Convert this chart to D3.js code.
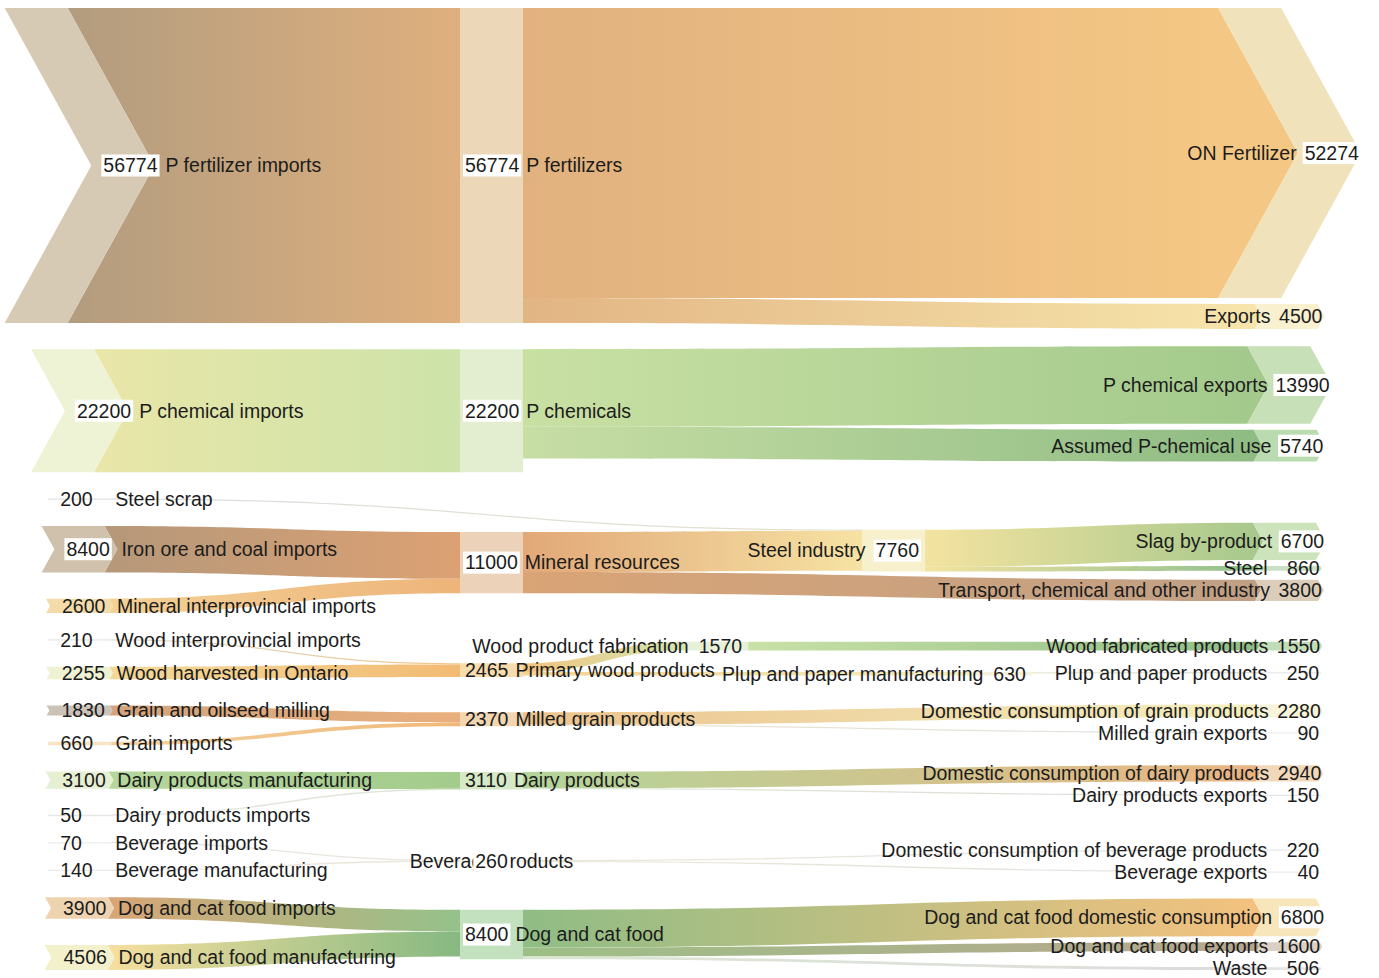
<!DOCTYPE html>
<html>
<head>
<meta charset="utf-8">
<script src="https://cdn.jsdelivr.net/npm/d3@7"></script>
<style>
  body { margin: 0; background: #fff; }
  text { font-family: "Liberation Sans", Arial, sans-serif; font-size: 19.5px; fill: #1c1c1c; }
</style>
</head>
<body>
<div id="chart"></div>
<script>
// nodes, listed top to bottom inside each stage
var nodeNames = [
    "P fertilizer imports", "P chemical imports", "Steel scrap", "Iron ore and coal imports",
    "Mineral interprovincial imports", "Wood interprovincial imports", "Wood harvested in Ontario",
    "Grain and oilseed milling", "Grain imports", "Dairy products manufacturing", "Dairy products imports",
    "Beverage imports", "Beverage manufacturing", "Dog and cat food imports", "Dog and cat food manufacturing",
    "P fertilizers", "P chemicals", "Mineral resources", "Primary wood products", "Milled grain products",
    "Dairy products", "Beverage products", "Dog and cat food",
    "Wood product fabrication", "Steel industry", "Plup and paper manufacturing",
    "ON Fertilizer", "Exports", "P chemical exports", "Assumed P-chemical use", "Slag by-product", "Steel",
    "Transport, chemical and other industry", "Wood fabricated products", "Plup and paper products",
    "Domestic consumption of grain products", "Milled grain exports", "Domestic consumption of dairy products",
    "Dairy products exports", "Domestic consumption of beverage products", "Beverage exports",
    "Dog and cat food domestic consumption", "Dog and cat food exports", "Waste"
];
var nodeValues = [
    56774, 22200, 200, 8400, 2600, 210, 2255, 1830, 660, 3100, 50, 70, 140, 3900, 4506,
    56774, 22200, 11000, 2465, 2370, 3110, 260, 8400,
    1570, 7760, 630,
    52274, 4500, 13990, 5740, 6700, 860, 3800, 1550, 250, 2280, 90, 2940, 150, 220, 40, 6800, 1600, 506
];
// processing stage of each node (0 = sources, 1 = products, 3 = final use)
var nodeStages = [
    0, 0, 0, 0, 0, 0, 0, 0, 0, 0, 0, 0, 0, 0, 0,
    1, 1, 1, 1, 1, 1, 1, 1,
    1.56, 2, 2.27,
    3, 3, 3, 3, 3, 3, 3, 3, 3, 3, 3, 3, 3, 3, 3, 3, 3, 3
];
var flows = [
    ["P fertilizer imports", "P fertilizers", 56774],
    ["P chemical imports", "P chemicals", 22200],
    ["Steel scrap", "Steel industry", 200],
    ["Iron ore and coal imports", "Mineral resources", 8400],
    ["Mineral interprovincial imports", "Mineral resources", 2600],
    ["Wood interprovincial imports", "Primary wood products", 210],
    ["Wood harvested in Ontario", "Primary wood products", 2255],
    ["Grain and oilseed milling", "Milled grain products", 1830],
    ["Grain imports", "Milled grain products", 660],
    ["Dairy products manufacturing", "Dairy products", 3100],
    ["Dairy products imports", "Dairy products", 50],
    ["Beverage imports", "Beverage products", 70],
    ["Beverage manufacturing", "Beverage products", 140],
    ["Dog and cat food imports", "Dog and cat food", 3900],
    ["Dog and cat food manufacturing", "Dog and cat food", 4506],
    ["P fertilizers", "ON Fertilizer", 52274],
    ["P fertilizers", "Exports", 4500],
    ["P chemicals", "P chemical exports", 13990],
    ["P chemicals", "Assumed P-chemical use", 5740],
    ["Mineral resources", "Steel industry", 7200],
    ["Mineral resources", "Transport, chemical and other industry", 3800],
    ["Steel industry", "Slag by-product", 6700],
    ["Steel industry", "Steel", 860],
    ["Primary wood products", "Wood product fabrication", 1570],
    ["Primary wood products", "Plup and paper manufacturing", 630],
    ["Wood product fabrication", "Wood fabricated products", 1550],
    ["Plup and paper manufacturing", "Plup and paper products", 250],
    ["Milled grain products", "Domestic consumption of grain products", 2280],
    ["Milled grain products", "Milled grain exports", 90],
    ["Dairy products", "Domestic consumption of dairy products", 2940],
    ["Dairy products", "Dairy products exports", 150],
    ["Beverage products", "Domestic consumption of beverage products", 220],
    ["Beverage products", "Beverage exports", 40],
    ["Dog and cat food", "Dog and cat food domestic consumption", 6800],
    ["Dog and cat food", "Dog and cat food exports", 1600],
    ["Dog and cat food", "Waste", 506]
];

// ---- styles ----
var nodeFill = {
    "P fertilizer imports": "#d6cab4", "P chemical imports": "#eff3d5", "Steel scrap": "#e2e2e2",
    "Iron ore and coal imports": "#cfc1ab", "Mineral interprovincial imports": "#f4dcaa",
    "Wood interprovincial imports": "#e6e6e6", "Wood harvested in Ontario": "#eef2d2",
    "Grain and oilseed milling": "#cbc3b8", "Grain imports": "#f6e4c4", "Dairy products manufacturing": "#e5f0d3",
    "Dairy products imports": "#e8e8e8", "Beverage imports": "#ebebeb", "Beverage manufacturing": "#ebebeb",
    "Dog and cat food imports": "#eed3b0", "Dog and cat food manufacturing": "#f3f1cc",
    "P fertilizers": "#ecd7b8", "P chemicals": "#e2eecf", "Mineral resources": "#ebd2b8",
    "Primary wood products": "#f7ddae", "Milled grain products": "#f2d6b2", "Dairy products": "#d6e9c7",
    "Beverage products": "#efefe6", "Dog and cat food": "#c3e1bf",
    "Wood product fabrication": "#e6f1d8", "Steel industry": "#f7f0cd", "Plup and paper manufacturing": "#f5f1da",
    "ON Fertilizer": "#f0e2ba", "Exports": "#f8f0cf", "P chemical exports": "#c8e0b8",
    "Assumed P-chemical use": "#badaaf", "Slag by-product": "#cde3bb", "Steel": "#c6e0c1",
    "Transport, chemical and other industry": "#dbcdba", "Wood fabricated products": "#c0ddb7",
    "Plup and paper products": "#ececec", "Domestic consumption of grain products": "#f7f4da",
    "Milled grain exports": "#eeeeee", "Domestic consumption of dairy products": "#f0d8b9",
    "Dairy products exports": "#e6e6e6", "Domestic consumption of beverage products": "#e8e8e8",
    "Beverage exports": "#ececec", "Dog and cat food domestic consumption": "#f7e5bb",
    "Dog and cat food exports": "#dad0c4", "Waste": "#e4e4e4"
};
var linkColor = {
    "P fertilizer imports>P fertilizers": ["#b29c7f", "#dfb07e"],
    "P chemical imports>P chemicals": ["#e9e6a8", "#cde3a9"],
    "Steel scrap>Steel industry": ["#dcdcdc", "#e4e0cc"],
    "Iron ore and coal imports>Mineral resources": ["#b5987a", "#dca173"],
    "Mineral interprovincial imports>Mineral resources": ["#f3d196", "#eeb47a"],
    "Wood interprovincial imports>Primary wood products": ["#dedbd0", "#f1c48a"],
    "Wood harvested in Ontario>Primary wood products": ["#f4d999", "#f2bb74"],
    "Grain and oilseed milling>Milled grain products": ["#d3a37d", "#e9b07d"],
    "Grain imports>Milled grain products": ["#f4d2a0", "#f0b878"],
    "Dairy products manufacturing>Dairy products": ["#b5d69c", "#a3cc8c"],
    "Dairy products imports>Dairy products": ["#e4e4e4", "#dde8d3"],
    "Beverage imports>Beverage products": ["#e6e6e6", "#e8e6da"],
    "Beverage manufacturing>Beverage products": ["#e6e6e6", "#ece6d6"],
    "Dog and cat food imports>Dog and cat food": ["#d8a577", "#95c18a"],
    "Dog and cat food manufacturing>Dog and cat food": ["#f6df9f", "#86b981"],
    "P fertilizers>ON Fertilizer": ["#e1b17f", "#f5c784"],
    "P fertilizers>Exports": ["#e2b584", "#f7e5ac"],
    "P chemicals>P chemical exports": ["#c9e0a3", "#a3ca8c"],
    "P chemicals>Assumed P-chemical use": ["#c7dea5", "#8fbc84"],
    "Mineral resources>Steel industry": ["#e2a878", "#f6e2a3"],
    "Mineral resources>Transport, chemical and other industry": ["#d9a476", "#c0a085"],
    "Steel industry>Slag by-product": ["#f4e3a0", "#a8c98d"],
    "Steel industry>Steel": ["#f3e3a0", "#8ebf8e"],
    "Primary wood products>Wood product fabrication": ["#f2c37d", "#d2e6b4"],
    "Primary wood products>Plup and paper manufacturing": ["#f3d290", "#f3edc5"],
    "Wood product fabrication>Wood fabricated products": ["#c9e1a7", "#8fbd86"],
    "Plup and paper manufacturing>Plup and paper products": ["#eaecd6", "#e0e0e0"],
    "Milled grain products>Domestic consumption of grain products": ["#ebc38e", "#f4efbe"],
    "Milled grain products>Milled grain exports": ["#ebe2cc", "#e2e2e2"],
    "Dairy products>Domestic consumption of dairy products": ["#b3d59a", "#e9b482"],
    "Dairy products>Dairy products exports": ["#dde6d2", "#dcdcdc"],
    "Beverage products>Domestic consumption of beverage products": ["#ece8d8", "#e0e0e0"],
    "Beverage products>Beverage exports": ["#ece8d8", "#e2e2e2"],
    "Dog and cat food>Dog and cat food domestic consumption": ["#8fbd85", "#f3c17f"],
    "Dog and cat food>Dog and cat food exports": ["#9dbf86", "#b7a78f"],
    "Dog and cat food>Waste": ["#dbe6d2", "#dcdcdc"]
};
var centeredLabels = ["Beverage products"];

var width = 1379, height = 978;
var yTop = 8, yBottom = 970;
var nodeW = 63, minBand = 1.3, labelGap = 24;

var svg = d3.select("#chart").append("svg")
    .attr("width", width)
    .attr("height", height);
var defs = svg.append("defs");

function textWidth(str) {
    var t = svg.append("text").text(str);
    var w = t.node().getComputedTextLength();
    t.remove();
    return w;
}

var nodes = nodeNames.map(function(name, i) {
    return {name: name, value: nodeValues[i], stage: nodeStages[i], index: i, inLinks: [], outLinks: []};
});
var byName = {};
nodes.forEach(function(n) { byName[n.name] = n; });

var links = flows.map(function(f, i) {
    var l = {source: byName[f[0]], target: byName[f[1]], value: f[2], index: i};
    l.source.outLinks.push(l);
    l.target.inLinks.push(l);
    return l;
});

nodes.forEach(function(n) {
    n.size = Math.max(d3.sum(n.inLinks, function(l) { return l.value; }),
                      d3.sum(n.outLinks, function(l) { return l.value; }));
});

var k = d3.scaleLinear().domain([0, d3.max(nodes, function(n) { return n.size; })]).range([0, 315]);
var x = d3.scaleLinear().domain([0, 1, 2, 3]).range([48, 460, 862, 1258]);

links.forEach(function(l) { l.w = k(l.value); });
nodes.forEach(function(n) {
    n.h = Math.max(minBand, k(n.size));
    n.depth = (n.stage === 0 || n.stage === 3) ? 0.55 * n.h / 2 : 0;
    n.x0 = x(n.stage) - n.depth / 2;
    n.x1 = n.x0 + nodeW;
    // horizontal extent of the label, used to keep labels apart
    var lw = textWidth(String(n.value)) + 9 + textWidth(n.name);
    if (n.stage === 1) { n.lx0 = n.x0 + 5; n.lx1 = n.lx0 + lw; }
    else { n.lx1 = n.x1 - 6; n.lx0 = n.lx1 - lw; }
});

// stage 0: stacked with even spacing
var col0 = nodes.filter(function(n) { return n.stage === 0; });
var pad0 = (yBottom - yTop - d3.sum(col0, function(n) { return n.h; })) / (col0.length - 1);
var yy = yTop;
col0.forEach(function(n) {
    n.cy = yy + n.h / 2;
    yy += n.h + pad0;
});

function relax(col, minGap) {
    for (var it = 0; it < 300; it++) {
        for (var i = 1; i < col.length; i++) {
            var a = col[i - 1], b = col[i];
            var d = Math.max(a.h / 2 + b.h / 2 + 6, minGap);
            var diff = b.cy - a.cy;
            if (diff < d) {
                var m = (d - diff) / 2;
                a.cy -= m;
                b.cy += m;
            }
        }
        var last = col[col.length - 1], first = col[0];
        if (last.cy + last.h / 2 > yBottom) last.cy = yBottom - last.h / 2;
        if (first.cy - first.h / 2 < yTop) first.cy = yTop + first.h / 2;
    }
}

// move a middle node away from already placed labels that it would cover
function avoidLabels(n, placed) {
    for (var it = 0; it < 10; it++) {
        placed.forEach(function(o) {
            var overlapX = n.lx0 < o.lx1 && o.lx0 < n.lx1;
            if (overlapX && Math.abs(n.cy - o.cy) < labelGap) {
                n.cy = n.cy <= o.cy ? o.cy - labelGap : o.cy + labelGap;
            }
        });
    }
}

// later stages: centre on incoming flows, then spread out
var stages = Array.from(new Set(nodeStages)).sort(d3.ascending);
var placedMid = [];
stages.slice(1).forEach(function(s) {
    var col = nodes.filter(function(n) { return n.stage === s; });
    col.forEach(function(n) {
        var num = 0, den = 0;
        n.inLinks.forEach(function(l) {
            var src = l.source, off = src.cy - src.h / 2;
            var outs = src.outLinks.slice().sort(function(a, b) { return a.target.index - b.target.index; });
            for (var j = 0; j < outs.length && outs[j] !== l; j++) off += outs[j].w;
            num += l.value * (off + l.w / 2);
            den += l.value;
        });
        n.cy = num / den;
    });
    relax(col, s === 3 ? 22 : 0);
    if (s > 1 && s < 3) col.forEach(function(n) { avoidLabels(n, placedMid); });
    if (s < 3) placedMid = placedMid.concat(col);
});

nodes.forEach(function(n) {
    n.y0 = n.cy - n.h / 2;
    n.y1 = n.cy + n.h / 2;
});

// band positions inside the nodes
nodes.forEach(function(n) {
    var y = n.y0;
    n.outLinks.slice().sort(function(a, b) { return a.target.cy - b.target.cy; })
        .forEach(function(l) { l.sy = y; y += l.w; });
    y = n.y0;
    n.inLinks.slice().sort(function(a, b) { return a.source.cy - b.source.cy; })
        .forEach(function(l) { l.ty = y; y += l.w; });
});

function chevron(n, y) {
    if (!n.depth) return 0;
    return n.depth * (1 - Math.min(1, Math.abs(y - n.cy) / (n.h / 2)));
}
function outX(n, y) { return n.x1 + chevron(n, y); }
function inX(n, y) { return n.x0 + chevron(n, y); }

function linkPath(l) {
    var s = l.source, t = l.target;
    var sy0 = l.sy, sy1 = l.sy + l.w, ty0 = l.ty, ty1 = l.ty + l.w;
    if (l.w < minBand) {
        var c = (sy0 + sy1) / 2, e = minBand / 2;
        sy0 = c - e; sy1 = c + e;
        c = (ty0 + ty1) / 2;
        ty0 = c - e; ty1 = c + e;
    }
    var p = d3.path();
    var xs0 = outX(s, sy0), xt0 = inX(t, ty0), xm0 = (xs0 + xt0) / 2;
    p.moveTo(xs0, sy0);
    p.bezierCurveTo(xm0, sy0, xm0, ty0, xt0, ty0);
    if (t.depth && t.cy > ty0 && t.cy < ty1) p.lineTo(inX(t, t.cy), t.cy);
    var xt1 = inX(t, ty1), xs1 = outX(s, sy1), xm1 = (xs1 + xt1) / 2;
    p.lineTo(xt1, ty1);
    p.bezierCurveTo(xm1, ty1, xm1, sy1, xs1, sy1);
    if (s.depth && s.cy > sy0 && s.cy < sy1) p.lineTo(outX(s, s.cy), s.cy);
    p.closePath();
    return p.toString();
}

// gradients
links.forEach(function(l) {
    var cols = linkColor[l.source.name + ">" + l.target.name] || ["#ddd", "#ccc"];
    var g = defs.append("linearGradient")
        .attr("id", "lg" + l.index)
        .attr("gradientUnits", "userSpaceOnUse")
        .attr("x1", l.source.x1)
        .attr("x2", l.target.x0)
        .attr("y1", 0).attr("y2", 0);
    g.append("stop").attr("offset", "0%").attr("stop-color", cols[0]);
    g.append("stop").attr("offset", "100%").attr("stop-color", cols[1]);
});

svg.append("g")
    .attr("class", "links")
    .selectAll("path")
    .data(links.slice().sort(function(a, b) { return b.value - a.value; }))
    .enter().append("path")
    .attr("d", linkPath)
    .style("fill", function(d) { return "url(#lg" + d.index + ")"; });

function nodeShape(n) {
    var p = d3.path();
    p.moveTo(n.x0, n.y0);
    p.lineTo(n.x1, n.y0);
    p.lineTo(n.x1 + n.depth, n.cy);
    p.lineTo(n.x1, n.y1);
    p.lineTo(n.x0, n.y1);
    p.lineTo(n.x0 + n.depth, n.cy);
    p.closePath();
    return p.toString();
}

svg.append("g")
    .attr("class", "nodes")
    .selectAll("path")
    .data(nodes)
    .enter().append("path")
    .attr("d", nodeShape)
    .style("fill", function(d) { return nodeFill[d.name] || "#eee"; });

// labels
var labels = svg.append("g").attr("class", "labels");

function valueLabel(g, n, xPos, anchor) {
    var box = g.append("rect").style("fill", "#fff");
    var t = g.append("text")
        .attr("x", xPos)
        .attr("y", n.cy)
        .attr("dy", "0.35em")
        .attr("text-anchor", anchor)
        .text(n.value);
    var w = t.node().getComputedTextLength();
    var left = anchor === "start" ? xPos : anchor === "end" ? xPos - w : xPos - w / 2;
    if (n.h > 26 || centeredLabels.indexOf(n.name) >= 0) {
        box.attr("x", left - 2).attr("y", n.cy - 11).attr("width", w + 4).attr("height", 22);
    } else {
        box.remove();
    }
    return w;
}

nodes.forEach(function(n) {
    var g = labels.append("g");
    var vw;
    if (centeredLabels.indexOf(n.name) >= 0) {
        var mid = (n.x0 + n.x1) / 2;
        g.append("text").attr("x", mid).attr("y", n.cy).attr("dy", "0.35em")
            .attr("text-anchor", "middle").text(n.name);
        valueLabel(g, n, mid, "middle");
        return;
    }
    if (n.stage === 0) {
        var lx = x(0) + n.depth / 2 + 12;
        vw = valueLabel(g, n, lx, "start");
        g.append("text").attr("x", Math.max(lx + vw + 8, x(0) + n.depth / 2 + 67)).attr("y", n.cy)
            .attr("dy", "0.35em").text(n.name);
    } else if (n.stage === 1) {
        var sx = n.x0 + 5;
        vw = valueLabel(g, n, sx, "start");
        g.append("text").attr("x", sx + vw + 7).attr("y", n.cy).attr("dy", "0.35em").text(n.name);
    } else if (n.stage === 3) {
        var rx = n.x1 + n.depth - 2;
        vw = valueLabel(g, n, rx, "end");
        g.append("text").attr("x", Math.min(rx - vw - 8, rx - 52)).attr("y", n.cy)
            .attr("dy", "0.35em").attr("text-anchor", "end").text(n.name);
    } else {
        var ex = n.x1 - 6;
        vw = valueLabel(g, n, ex, "end");
        g.append("text").attr("x", ex - vw - 10).attr("y", n.cy)
            .attr("dy", "0.35em").attr("text-anchor", "end").text(n.name);
    }
});
</script>
</body>
</html>
